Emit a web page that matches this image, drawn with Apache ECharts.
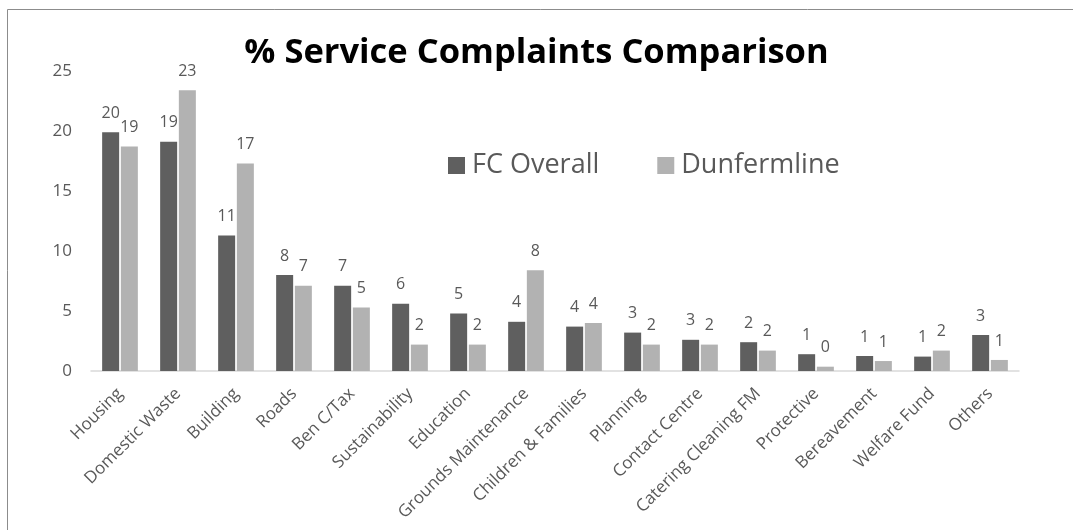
<!DOCTYPE html>
<html>
<head>
<meta charset="utf-8">
<title>% Service Complaints Comparison</title>
<script src="https://cdn.jsdelivr.net/npm/echarts@6/dist/echarts.min.js"></script>
<style>
  html, body { margin: 0; padding: 0; background: #fff; }
  #chart { width: 1073px; height: 530px; }
</style>
</head>
<body>
<div id="chart"></div>
<script>
// services on the x axis
var services = ['Housing', 'Domestic Waste', 'Building', 'Roads', 'Ben C/Tax', 'Sustainability',
    'Education', 'Grounds Maintenance', 'Children & Families', 'Planning', 'Contact Centre',
    'Catering Cleaning FM', 'Protective', 'Bereavement', 'Welfare Fund', 'Others'];
// % of complaints (labels show them rounded)
var fcOverall  = [19.9, 19.1, 11.3, 8.0, 7.1, 5.6, 4.8, 4.1, 3.7, 3.2, 2.6, 2.4, 1.4, 1.25, 1.2, 3.0];
var dunfermline = [18.7, 23.4, 17.3, 7.1, 5.3, 2.2, 2.2, 8.4, 4.0, 2.2, 2.2, 1.7, 0.36, 0.83, 1.7, 0.92];
var yTicks = [0, 5, 10, 15, 20, 25];

var font = '"Open Sans", sans-serif';
var textGrey = '#595959';

var myChart = echarts.init(document.getElementById('chart'));

// value labels, rounded like the original
var barLabel = {
    show: true,
    position: 'top',
    distance: 11,
    color: textGrey,
    fontFamily: font,
    fontSize: 16,
    formatter: function (p) { return Math.round(p.value); }
};

var option = {
    backgroundColor: '#fff',
    animation: false,
    title: {
        text: '% Service Complaints Comparison',
        left: 'center',
        top: 31,
        textStyle: {
            fontFamily: font,
            fontWeight: 'bold',
            fontSize: 34.5,
            color: '#000'
        }
    },
    legend: {
        left: 443,
        top: 147,
        icon: 'rect',
        itemWidth: 17,
        itemHeight: 17,
        itemGap: 58,
        textStyle: {
            fontFamily: font,
            fontSize: 27,
            color: textGrey,
            padding: [0, 0, 0, 2]
        },
        data: ['FC Overall', 'Dunfermline']
    },
    grid: {
        left: 91,
        right: 54,
        top: 71,
        bottom: 159
    },
    xAxis: {
        type: 'category',
        data: services,
        axisLine: { lineStyle: { color: '#d9d9d9', width: 1.5 } },
        axisTick: { show: false },
        axisLabel: {
            interval: 0,
            rotate: 45,
            margin: 20,
            color: textGrey,
            fontFamily: font,
            fontSize: 17
        }
    },
    yAxis: {
        type: 'value',
        min: yTicks[0],
        max: yTicks[yTicks.length - 1],
        interval: 5,
        splitLine: { show: false },
        axisLine: { show: false },
        axisTick: { show: false },
        axisLabel: {
            margin: 19,
            color: textGrey,
            fontFamily: font,
            fontSize: 17
        }
    },
    series: [
        {
            name: 'FC Overall',
            type: 'bar',
            barWidth: 17,
            barGap: '10%',
            color: '#5f5f5f',
            label: barLabel,
            data: fcOverall
        },
        {
            name: 'Dunfermline',
            type: 'bar',
            barWidth: 17,
            barGap: '10%',
            color: '#b2b2b2',
            label: barLabel,
            data: dunfermline
        }
    ],
    graphic: [
        {
            // chart area border, cut off at the right and bottom
            type: 'rect',
            shape: { x: 7.5, y: 9.5, width: 1200, height: 700 },
            style: { fill: null, stroke: '#8c8c8c', lineWidth: 1 },
            silent: true
        }
    ]
};
myChart.setOption(option);
</script>
</body>
</html>
